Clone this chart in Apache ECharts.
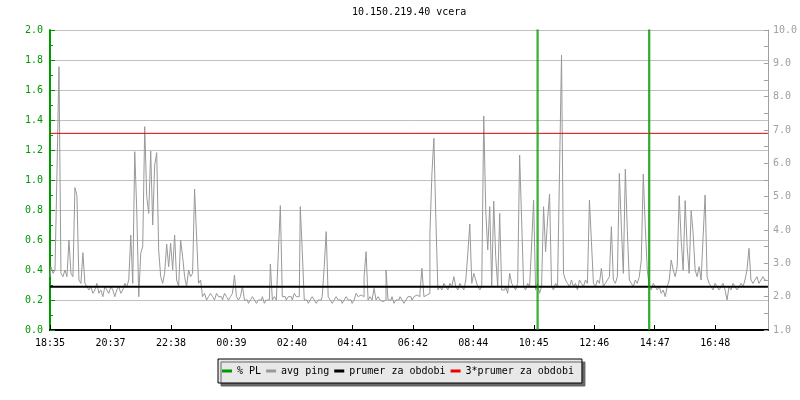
<!DOCTYPE html>
<html>
<head>
<meta charset="utf-8">
<script src="https://cdn.jsdelivr.net/npm/echarts@6/dist/echarts.min.js"></script>
<style>html,body{margin:0;padding:0;background:#fff}#c{width:800px;height:400px}</style>
</head>
<body>
<div id="c"></div>
<script>
// x-axis tick labels (one every ~121.3 minutes over 24 h)
const xLabels = ['18:35','20:37','22:38','00:39','02:40','04:41','06:42','08:44','10:45','12:46','14:47','16:48'];
const tickStepMin = 121.3;
const spanMin = 1440;
const sampleMin = 4;

// avg ping [ms], one sample every 4 minutes from 18:35
const avgPing = [
2.6,2.9,2.7,2.8,5.7,8.9,2.7,2.6,2.8,2.6,3.7,2.7,2.6,5.27,5.03,2.5,2.4,3.32,2.4,2.3,
2.2,2.3,2.1,2.2,2.4,2.1,2.2,2.0,2.3,2.2,2.1,2.3,2.2,2.0,2.2,2.3,2.1,2.2,2.4,2.3,
2.5,3.85,2.4,6.35,4.6,2.0,3.3,3.5,7.1,5.0,4.5,6.37,4.15,5.95,6.32,3.4,2.6,2.4,2.7,3.58,
2.9,3.6,2.8,3.85,2.5,2.3,3.7,3.2,2.6,2.3,2.8,2.6,2.7,5.23,3.82,2.4,2.5,2.0,2.1,1.9,
2.0,2.1,2.0,1.9,2.1,2.0,2.0,1.9,2.1,2.0,1.9,2.0,2.1,2.65,2.0,1.9,2.0,2.32,1.9,1.9,
1.8,1.9,2.0,1.9,1.8,1.9,1.9,2.0,1.8,1.9,1.9,2.98,1.9,2.0,1.9,3.3,4.73,2.0,2.0,1.9,
2.0,2.0,1.9,2.1,2.0,2.0,4.7,3.35,1.9,1.9,1.8,1.9,2.0,1.9,1.8,1.9,1.9,2.0,2.9,3.95,
2.0,1.9,1.8,1.9,2.0,1.9,1.9,1.8,1.9,2.0,1.9,1.9,1.8,1.9,2.1,2.0,2.05,2.0,2.6,3.35,
1.9,2.0,1.9,2.25,1.9,2.0,1.9,1.85,1.9,2.8,1.9,1.9,2.0,1.8,1.9,1.9,2.0,1.9,1.8,1.9,
2.0,2.0,1.9,2.0,2.05,2.0,2.1,2.85,2.0,2.05,2.1,3.87,5.68,6.75,4.32,2.2,2.3,2.2,2.4,2.3,
2.2,2.4,2.3,2.6,2.3,2.2,2.4,2.3,2.2,2.5,3.28,4.18,2.4,2.7,2.5,2.3,2.2,2.3,7.42,4.6,
3.4,4.7,2.3,4.87,3.2,2.3,4.5,2.2,2.2,2.3,2.1,2.7,2.4,2.3,2.2,2.4,6.25,4.3,2.3,2.2,
2.4,2.3,3.55,4.9,2.2,2.4,2.1,2.3,4.7,3.35,4.3,5.08,2.3,2.2,2.4,2.3,5.75,9.25,2.7,2.5,
2.4,2.3,2.5,2.3,2.4,2.2,2.5,2.4,2.3,2.5,2.4,4.9,3.65,2.4,2.3,2.5,2.4,2.85,2.3,2.4,
2.5,2.6,4.1,2.5,2.4,2.6,5.7,4.1,2.7,5.83,3.98,2.5,2.4,2.3,2.5,2.4,2.6,3.1,5.68,4.1,
2.8,2.3,2.2,2.4,2.3,2.2,2.3,2.1,2.2,2.0,2.3,2.5,3.1,2.8,2.6,2.9,5.03,3.7,2.8,4.88,
3.5,2.7,4.58,3.9,2.8,2.6,2.9,2.5,3.8,5.05,2.6,2.4,2.3,2.2,2.4,2.3,2.2,2.3,2.4,2.2,
1.9,2.3,2.2,2.4,2.3,2.2,2.3,2.4,2.3,2.5,2.8,3.45,2.5,2.4,2.5,2.6,2.4,2.5,2.6,2.5
];

// period average and 3x average [ms]
const prumer = 2.3;
const prumer3 = 6.9;

// packet loss events: minute of loss sample, its % value, and neighbouring sample
const plMinute = [977, 1201];
const plPeak = [100, 100];
const plNextMinute = [979, 1203];
const plNextValue = [1.0, 1.0];

const FONT = "'DejaVu Sans Mono', monospace";
const GREEN = '#009900';

const pingData = avgPing.map((v, i) => [i * sampleMin, v]);
const plData = [];
plMinute.forEach((m, k) => {
  plData.push([plNextMinute[k], 0], [plNextMinute[k], plNextValue[k]], [m, plNextValue[k]], [m, plPeak[k]], [m, 0], [m + 1, '-']);
});

const chart = echarts.init(document.getElementById('c'), null, {renderer: 'canvas'});
chart.setOption({
  animation: false,
  backgroundColor: '#fff',
  title: {
    text: '10.150.219.40 vcera',
    left: 352, top: 7, padding: 0,
    textStyle: {fontFamily: FONT, fontSize: 10, fontWeight: 'normal', color: '#000'}
  },
  legend: {
    left: 218, top: 359,
    padding: [7, 8, 7, 4],
    itemGap: 5, itemWidth: 10, itemHeight: 3,
    icon: 'rect',
    backgroundColor: '#e8e8e8',
    borderColor: '#000', borderWidth: 1, borderRadius: 0,
    shadowColor: '#666', shadowBlur: 0, shadowOffsetX: 3, shadowOffsetY: 3,
    textStyle: {fontFamily: FONT, fontSize: 10, color: '#000'},
    data: ['% PL', 'avg ping', 'prumer za obdobi', '3*prumer za obdobi']
  },
  grid: {left: 50, right: 30, top: 30, bottom: 70},
  xAxis: {
    type: 'value', min: 0, max: spanMin, interval: tickStepMin,
    axisLine: {lineStyle: {color: '#000', width: 2}},
    axisTick: {inside: true, length: 5, lineStyle: {color: '#000'}},
    axisLabel: {
      margin: 8, color: '#000', fontFamily: FONT, fontSize: 10, showMaxLabel: false,
      formatter: v => xLabels[Math.round(v / tickStepMin)] || ''
    },
    splitLine: {show: false}
  },
  yAxis: [
    {
      type: 'value', position: 'left', min: 0, max: 2, interval: 0.2,
      axisLine: {show: true, lineStyle: {color: GREEN, width: 2}},
      axisTick: {show: true, inside: true, length: 5, lineStyle: {color: GREEN}},
      minorTick: {show: true, splitNumber: 2, length: 3, lineStyle: {color: GREEN}},
      axisLabel: {margin: 7, color: GREEN, fontFamily: FONT, fontSize: 10, formatter: v => v.toFixed(1)},
      splitLine: {show: true, lineStyle: {color: '#c0c0c0', width: 1}}
    },
    {
      type: 'value', position: 'right', min: 1, max: 10, interval: 1,
      axisLine: {show: true, lineStyle: {color: '#a0a0a0', width: 1}},
      axisTick: {show: true, inside: true, length: 4, lineStyle: {color: '#a0a0a0'}},
      minorTick: {show: true, splitNumber: 2, length: 4, lineStyle: {color: '#a0a0a0'}},
      axisLabel: {margin: 5, color: '#a0a0a0', fontFamily: FONT, fontSize: 10, formatter: v => v.toFixed(1)},
      splitLine: {show: false}
    }
  ],
  series: [
    {
      name: 'avg ping', type: 'line', yAxisIndex: 1, step: 'middle', showSymbol: false, symbol: 'none',
      data: pingData,
      lineStyle: {color: '#999999', width: 1}, itemStyle: {color: '#999999'}, z: 2
    },
    {
      name: 'prumer za obdobi', type: 'line', yAxisIndex: 1, symbol: 'none',
      data: [[0, prumer], [spanMin, prumer]],
      lineStyle: {color: '#000', width: 2}, itemStyle: {color: '#000'}, z: 3
    },
    {
      name: '3*prumer za obdobi', type: 'line', yAxisIndex: 1, symbol: 'none',
      data: [[0, prumer3], [spanMin, prumer3]],
      lineStyle: {color: '#dd0000', width: 1}, itemStyle: {color: '#ee0000'}, z: 3
    },
    {
      name: '% PL', type: 'line', yAxisIndex: 0, symbol: 'none', connectNulls: false, clip: true,
      data: plData,
      lineStyle: {color: GREEN, width: 1}, itemStyle: {color: GREEN}, z: 4
    }
  ]
});
</script>
</body>
</html>
